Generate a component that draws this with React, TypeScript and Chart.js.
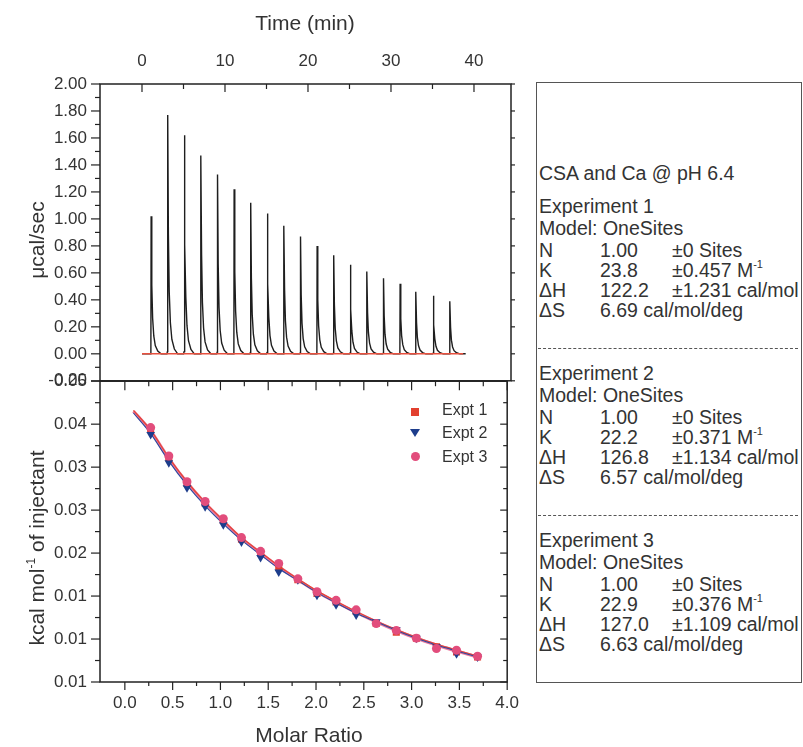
import React, { useEffect, useRef } from 'react';
import { Chart, registerables } from 'chart.js';
Chart.register(...registerables);

// ---------- Top panel: raw thermogram ----------
const timeTicks = [0, 10, 20, 30, 40];
const timeMinorTicks = [5, 15, 25, 35];
const powerTicks = [-0.2, 0, 0.2, 0.4, 0.6, 0.8, 1.0, 1.2, 1.4, 1.6, 1.8, 2.0];
const powerMinorTicks = [-0.1, 0.1, 0.3, 0.5, 0.7, 0.9, 1.1, 1.3, 1.5, 1.7, 1.9];
const injectionTimes = [1.1, 3.1, 5.1, 7.1, 9.1, 11.1, 13.1, 15.1, 17.1, 19.1, 21.1, 23.1, 25.1, 27.1, 29.1, 31.1, 33.0, 35.1, 37.1];
const peakHeights = [1.02, 1.77, 1.62, 1.47, 1.33, 1.22, 1.12, 1.04, 0.95, 0.87, 0.80, 0.73, 0.66, 0.61, 0.56, 0.52, 0.46, 0.43, 0.39];
const peakShapeOffsets = [-0.1, -0.03, 0.0, 0.08, 0.18, 0.32, 0.5, 0.8, 1.2];
const peakShapeFractions = [0, 0.01, 1, 0.5, 0.26, 0.13, 0.06, 0.02, 0];
const traceStart = 0;
const traceEnd = 39;
const baselineTimes = [0, 38.7];
const baselineValues = [0, 0];

// ---------- Bottom panel: integrated heats ----------
const molarRatio = [0.27, 0.46, 0.65, 0.84, 1.03, 1.22, 1.42, 1.61, 1.81, 2.01, 2.21, 2.42, 2.63, 2.84, 3.05, 3.26, 3.47, 3.69];
const expt1 = [0.0394, 0.0361, 0.0331, 0.0308, 0.0288, 0.0266, 0.0250, 0.0234, 0.0219, 0.0203, 0.0193, 0.0182, 0.0168, 0.0158, 0.0151, 0.0141, 0.0135, 0.0129];
const expt2 = [0.0388, 0.0355, 0.0326, 0.0304, 0.0283, 0.0263, 0.0245, 0.0228, 0.0219, 0.0201, 0.0190, 0.0178, 0.0170, 0.0161, 0.0151, 0.0141, 0.0133, 0.0129];
const expt3 = [0.0396, 0.0363, 0.0333, 0.0310, 0.0290, 0.0268, 0.0252, 0.0238, 0.0220, 0.0205, 0.0195, 0.0184, 0.0168, 0.0160, 0.0151, 0.0139, 0.0137, 0.0130];
const fitRatio = [0.09, 0.27, 0.46, 0.65, 0.84, 1.03, 1.22, 1.42, 1.61, 1.81, 2.01, 2.21, 2.42, 2.63, 2.84, 3.05, 3.26, 3.47, 3.69];
const fit1 = [0.0416, 0.0393, 0.0361, 0.0333, 0.0309, 0.0288, 0.0268, 0.0251, 0.0235, 0.0220, 0.0206, 0.0194, 0.0182, 0.0171, 0.0161, 0.0152, 0.0144, 0.0137, 0.0130];
const fit2 = [0.0413, 0.0389, 0.0357, 0.0329, 0.0305, 0.0284, 0.0265, 0.0248, 0.0232, 0.0218, 0.0204, 0.0192, 0.0180, 0.0170, 0.0160, 0.0151, 0.0143, 0.0136, 0.0129];
const fit3 = [0.0415, 0.0392, 0.0360, 0.0332, 0.0308, 0.0287, 0.0267, 0.0250, 0.0234, 0.0219, 0.0205, 0.0193, 0.0181, 0.0170, 0.0160, 0.0151, 0.0143, 0.0136, 0.0129];
const ratioTicks = [0, 0.5, 1.0, 1.5, 2.0, 2.5, 3.0, 3.5, 4.0];
const ratioMinorTicks = [0.25, 0.75, 1.25, 1.75, 2.25, 2.75, 3.25, 3.75];
const heatTicks = [0.010, 0.015, 0.020, 0.025, 0.030, 0.035, 0.040, 0.045];
const heatTickLabels = ['0.01', '0.01', '0.01', '0.02', '0.03', '0.03', '0.04', '0.05'];
const heatMinorTicks = [0.0125, 0.0175, 0.0225, 0.0275, 0.0325, 0.0375, 0.0425];
const seriesNames = ['Expt 1', 'Expt 2', 'Expt 3'];

// ---------- Fit results box ----------
const boxTitle = 'CSA and Ca @ pH 6.4';
const exptNames = ['Experiment 1', 'Experiment 2', 'Experiment 3'];
const modelName = 'Model: OneSites';
const nValues = ['1.00', '1.00', '1.00'];
const nErrors = ['±0 Sites', '±0 Sites', '±0 Sites'];
const kValues = ['23.8', '22.2', '22.9'];
const kErrors = ['±0.457', '±0.371', '±0.376'];
const dhValues = ['122.2', '126.8', '127.0'];
const dhErrors = ['±1.231 cal/mol', '±1.134 cal/mol', '±1.109 cal/mol'];
const dsValues = ['6.69 cal/mol/deg', '6.57 cal/mol/deg', '6.63 cal/mol/deg'];

const FONT = "'Liberation Sans', Arial, Helvetica, sans-serif";
const TEXT = '#333';
const RED = '#e2402f';
const NAVY = '#1d3d8c';
const PINK = '#e24d7c';

type TickSpec = { axis: string; side: 'left' | 'right' | 'top' | 'bottom'; major: number[]; minor: number[]; dir: number; majorLen: number; minorLen: number };

function frameTicksPlugin(specs: TickSpec[]) {
  return {
    id: 'frameTicks',
    afterDraw(chart: any) {
      const { ctx, chartArea: a, scales } = chart;
      ctx.save();
      ctx.strokeStyle = '#222';
      ctx.lineWidth = 1.5;
      ctx.strokeRect(a.left, a.top, a.right - a.left, a.bottom - a.top);
      ctx.lineWidth = 1.2;
      for (const s of specs) {
        const scale = scales[s.axis];
        const draw = (vals: number[], len: number) => {
          for (const v of vals) {
            const p = scale.getPixelForValue(v);
            ctx.beginPath();
            if (s.side === 'left') { ctx.moveTo(a.left, p); ctx.lineTo(a.left - len * s.dir, p); }
            if (s.side === 'right') { ctx.moveTo(a.right, p); ctx.lineTo(a.right + len * s.dir, p); }
            if (s.side === 'top') { ctx.moveTo(p, a.top); ctx.lineTo(p, a.top - len * s.dir); }
            if (s.side === 'bottom') { ctx.moveTo(p, a.bottom); ctx.lineTo(p, a.bottom + len * s.dir); }
            ctx.stroke();
          }
        };
        draw(s.major, s.majorLen);
        draw(s.minor, s.minorLen);
      }
      ctx.restore();
    },
  };
}

function buildTrace() {
  const pts: { x: number; y: number }[] = [{ x: traceStart, y: 0 }];
  injectionTimes.forEach((t, i) => {
    peakShapeOffsets.forEach((o, j) => pts.push({ x: t + o, y: peakHeights[i] * peakShapeFractions[j] }));
  });
  pts.push({ x: traceEnd, y: 0 });
  return pts;
}

const zip = (xs: number[], ys: number[]) => xs.map((x, i) => ({ x, y: ys[i] }));

const tickFont = { family: FONT, size: 17 };

export default function App() {
  const topRef = useRef<HTMLCanvasElement>(null);
  const botRef = useRef<HTMLCanvasElement>(null);

  useEffect(() => {
    const top = new Chart(topRef.current as HTMLCanvasElement, {
      type: 'line',
      data: {
        datasets: [
          { data: zip(baselineTimes, baselineValues), borderColor: '#e8503e', borderWidth: 1.4, pointRadius: 0, order: 0 },
          { data: buildTrace(), borderColor: '#1e1e1e', borderWidth: 1.4, pointRadius: 0, order: 1 },
        ],
      },
      options: {
        animation: false,
        responsive: false,
        maintainAspectRatio: false,
        layout: { padding: { left: 0, right: 19, top: 0, bottom: 0 } },
        plugins: { legend: { display: false }, tooltip: { enabled: false } },
        elements: { line: { tension: 0 } },
        scales: {
          x: {
            type: 'linear', position: 'top', min: -5.06, max: 44.46,
            grid: { display: false, drawTicks: false }, border: { display: false },
            ticks: { padding: 12, font: tickFont, color: TEXT, autoSkip: false, maxRotation: 0, callback: (v: any) => String(v) },
            afterBuildTicks: (s: any) => { s.ticks = timeTicks.map((v) => ({ value: v })); },
            afterFit: (s: any) => { s.height = 84; },
          },
          y: {
            type: 'linear', position: 'left', min: -0.2, max: 2.0,
            grid: { display: false, drawTicks: false }, border: { display: false },
            ticks: { padding: 13, font: tickFont, color: TEXT, autoSkip: false, callback: (v: any) => Number(v).toFixed(2) },
            afterBuildTicks: (s: any) => { s.ticks = powerTicks.map((v) => ({ value: v })); },
            afterFit: (s: any) => { s.width = 100; },
          },
        },
      } as any,
      plugins: [frameTicksPlugin([
        { axis: 'y', side: 'left', major: powerTicks, minor: powerMinorTicks, dir: 1, majorLen: 9, minorLen: 5 },
        { axis: 'y', side: 'right', major: powerTicks, minor: [], dir: 1, majorLen: 4, minorLen: 0 },
        { axis: 'x', side: 'top', major: timeTicks, minor: timeMinorTicks, dir: -1, majorLen: 8, minorLen: 5 },
      ])],
    });

    const bot = new Chart(botRef.current as HTMLCanvasElement, {
      type: 'line',
      data: {
        datasets: [
          { data: zip(fitRatio, fit3), borderColor: 'rgba(232,98,140,0.85)', borderWidth: 3.2, pointRadius: 0, order: 12 },
          { data: zip(fitRatio, fit1), borderColor: '#e5463a', borderWidth: 1.3, pointRadius: 0, order: 11 },
          { data: zip(fitRatio, fit2), borderColor: '#2d4aa0', borderWidth: 1.1, pointRadius: 0, order: 10 },
          { data: zip(molarRatio, expt1), showLine: false, pointStyle: 'rect', pointRadius: 5, backgroundColor: RED, borderColor: RED, borderWidth: 0, order: 3 },
          { data: zip(molarRatio, expt2), showLine: false, pointStyle: 'triangle', rotation: 180, pointRadius: 5, backgroundColor: NAVY, borderColor: NAVY, borderWidth: 0, order: 2 },
          { data: zip(molarRatio, expt3), showLine: false, pointStyle: 'circle', pointRadius: 4.5, backgroundColor: PINK, borderColor: PINK, borderWidth: 0, order: 1 },
        ],
      },
      options: {
        animation: false,
        responsive: false,
        maintainAspectRatio: false,
        layout: { padding: { left: 0, right: 19, top: 0, bottom: 0 } },
        plugins: { legend: { display: false }, tooltip: { enabled: false } },
        elements: { line: { tension: 0.3 } },
        scales: {
          x: {
            type: 'linear', position: 'bottom', min: -0.26, max: 4.0,
            grid: { display: false, drawTicks: false }, border: { display: false },
            ticks: { padding: 11, font: tickFont, color: TEXT, autoSkip: false, maxRotation: 0, callback: (v: any) => Number(v).toFixed(1) },
            afterBuildTicks: (s: any) => { s.ticks = ratioTicks.map((v) => ({ value: v })); },
            afterFit: (s: any) => { s.height = 65; },
          },
          y: {
            type: 'linear', position: 'left', min: 0.010, max: 0.045,
            grid: { display: false, drawTicks: false }, border: { display: false },
            ticks: { padding: 13, font: tickFont, color: TEXT, autoSkip: false, callback: (_v: any, i: number) => heatTickLabels[i] },
            afterBuildTicks: (s: any) => { s.ticks = heatTicks.map((v) => ({ value: v })); },
            afterFit: (s: any) => { s.width = 100; },
          },
        },
      } as any,
      plugins: [frameTicksPlugin([
        { axis: 'y', side: 'left', major: heatTicks, minor: heatMinorTicks, dir: 1, majorLen: 9, minorLen: 5 },
        { axis: 'y', side: 'right', major: heatTicks, minor: heatMinorTicks, dir: -1, majorLen: 7, minorLen: 4 },
        { axis: 'x', side: 'bottom', major: ratioTicks, minor: ratioMinorTicks, dir: 1, majorLen: 8, minorLen: 4 },
        { axis: 'x', side: 'top', major: ratioTicks, minor: ratioMinorTicks, dir: -1, majorLen: 9, minorLen: 5 },
      ])],
    });

    return () => { top.destroy(); bot.destroy(); };
  }, []);

  const abs = (o: any) => ({ position: 'absolute', ...o } as React.CSSProperties);
  const sectionTops = [206, 373, 540];
  const rowOffsets = [0, 22, 44, 64, 84, 104];
  const rowStyle = (cy: number, x: number) => abs({ left: x, top: cy - 12, lineHeight: '24px', fontSize: 19.5, whiteSpace: 'nowrap' });
  const COL1 = 539, COL2 = 600, COL3 = 672;

  return (
    <div style={abs({ left: 0, top: 0, width: 803, height: 747, background: '#fff', fontFamily: FONT, color: TEXT, overflow: 'hidden' })}>
      <canvas ref={topRef} width={530} height={404} style={abs({ left: 0, top: 0, width: 530, height: 404 })} />
      <canvas ref={botRef} width={530} height={389} style={abs({ left: 0, top: 358, width: 530, height: 389 })} />

      <div style={abs({ left: 205, top: 10, width: 200, textAlign: 'center', fontSize: 21, lineHeight: '26px' })}>Time (min)</div>
      <div style={abs({ left: 209, top: 722, width: 200, textAlign: 'center', fontSize: 21, lineHeight: '26px' })}>Molar Ratio</div>
      <div style={abs({ left: 37 - 100, top: 240 - 13, width: 200, textAlign: 'center', fontSize: 21, lineHeight: '26px', transform: 'rotate(-90deg)' })}>μcal/sec</div>
      <div style={abs({ left: 37 - 150, top: 548 - 13, width: 300, textAlign: 'center', fontSize: 21, lineHeight: '26px', transform: 'rotate(-90deg)', whiteSpace: 'nowrap' })}>
        kcal mol<sup style={{ fontSize: 12, verticalAlign: 'top', lineHeight: '14px' }}>-1</sup> of injectant
      </div>

      {/* legend */}
      <div style={abs({ left: 411, top: 408, width: 8, height: 8, background: RED })} />
      <div style={abs({ left: 410, top: 429, width: 0, height: 0, borderLeft: '5px solid transparent', borderRight: '5px solid transparent', borderTop: '8px solid ' + NAVY })} />
      <div style={abs({ left: 410.5, top: 451.5, width: 9, height: 9, borderRadius: '50%', background: PINK })} />
      {seriesNames.map((n, i) => (
        <div key={n} style={abs({ left: 442, top: [410, 433, 457][i] - 10, lineHeight: '20px', fontSize: 16, whiteSpace: 'nowrap' })}>{n}</div>
      ))}

      {/* fit results box */}
      <div style={abs({ left: 536, top: 82, width: 264, height: 599, border: '1px solid #555' })} />
      <div style={rowStyle(173, COL1)}>{boxTitle}</div>
      {exptNames.map((name, i) => {
        const y0 = sectionTops[i];
        return (
          <React.Fragment key={name}>
            <div style={rowStyle(y0 + rowOffsets[0], COL1)}>{name}</div>
            <div style={rowStyle(y0 + rowOffsets[1], COL1)}>{modelName}</div>
            <div style={rowStyle(y0 + rowOffsets[2], COL1)}>N</div>
            <div style={rowStyle(y0 + rowOffsets[2], COL2)}>{nValues[i]}</div>
            <div style={rowStyle(y0 + rowOffsets[2], COL3)}>{nErrors[i]}</div>
            <div style={rowStyle(y0 + rowOffsets[3], COL1)}>K</div>
            <div style={rowStyle(y0 + rowOffsets[3], COL2)}>{kValues[i]}</div>
            <div style={rowStyle(y0 + rowOffsets[3], COL3)}>{kErrors[i]} M<sup style={{ fontSize: 11, verticalAlign: 'top', lineHeight: '12px' }}>-1</sup></div>
            <div style={rowStyle(y0 + rowOffsets[4], COL1)}>ΔH</div>
            <div style={rowStyle(y0 + rowOffsets[4], COL2)}>{dhValues[i]}</div>
            <div style={rowStyle(y0 + rowOffsets[4], COL3)}>{dhErrors[i]}</div>
            <div style={rowStyle(y0 + rowOffsets[5], COL1)}>ΔS</div>
            <div style={rowStyle(y0 + rowOffsets[5], COL2)}>{dsValues[i]}</div>
            {i < 2 && <div style={abs({ left: 538, top: y0 + 142, width: 260, height: 0, borderTop: '1px dashed #555' })} />}
          </React.Fragment>
        );
      })}
    </div>
  );
}
